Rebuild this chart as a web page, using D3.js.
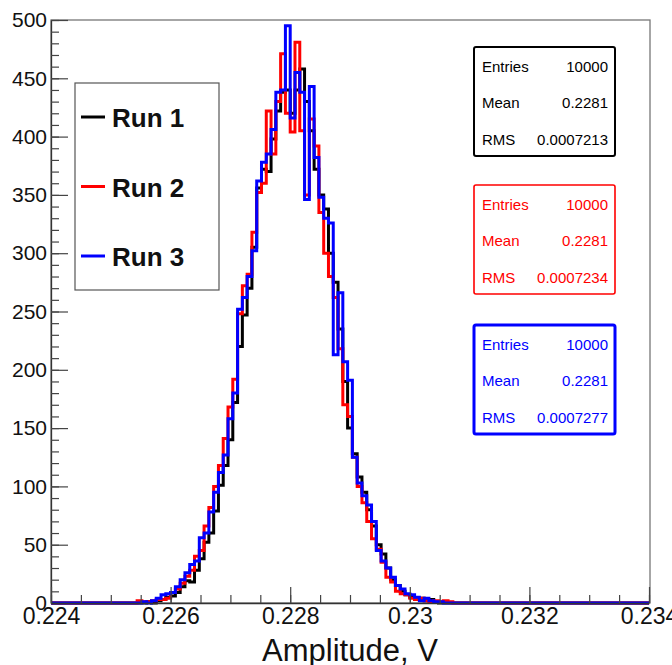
<!DOCTYPE html>
<html>
<head>
<meta charset="utf-8">
<script src="https://cdn.jsdelivr.net/npm/d3@7"></script>
<style>
  body { margin: 0; background: #fff; }
  svg { display: block; font-family: "Liberation Sans", Arial, sans-serif; }
</style>
</head>
<body>
<svg width="672" height="665"></svg>
<script>
// histogram: 125 bins of 0.00008 between 0.224 and 0.234
const X_MIN = 0.224, X_MAX = 0.234, N_BINS = 125;
const FIRST_BIN = 18; // index of first listed bin, all others are empty

const run1 = [0,0,1,0,2,3,5,6,9,14,19,18,28,38,52,60,79,101,118,140,172,220,247,270,305,356,372,370,398,422,438,440,420,440,458,430,405,372,350,338,300,275,235,190,150,128,108,95,80,66,50,42,30,20,15,10,7,5,3,4,2,3,1,0,0,0];
const run2 = [2,1,1,2,3,3,4,9,12,17,23,28,40,45,66,82,100,118,141,168,192,248,272,282,318,352,360,422,385,430,471,420,404,481,405,350,415,392,335,300,280,262,218,170,160,125,100,86,70,55,46,35,22,18,10,8,7,4,3,4,2,1,2,1,2,1];
const run3 = [0,1,0,2,4,7,8,9,14,20,26,33,36,56,60,78,95,112,127,158,180,252,262,280,302,362,378,385,406,438,440,495,416,455,438,346,443,382,348,330,326,213,266,207,191,125,103,92,84,70,45,36,30,22,15,12,8,7,5,2,4,2,1,1,0,0];

const runNames = ["Run 1", "Run 2", "Run 3"];
const runColors = ["#000000", "#ff0000", "#0000ff"];
const statLabels = ["Entries", "Mean", "RMS"];
const statValues = [
  ["10000", "0.2281", "0.0007213"],
  ["10000", "0.2281", "0.0007234"],
  ["10000", "0.2281", "0.0007277"]
];
const xTicks = [0.224, 0.226, 0.228, 0.23, 0.232, 0.234];

const svg = d3.select("svg");
const L = 51, R = 650, T = 20, B = 603;

const x = d3.scaleLinear().domain([X_MIN, X_MAX]).range([L, R - 1]);
const y = d3.scaleLinear().domain([0, 500]).range([B, T]);

// frame
svg.append("rect")
  .attr("x", L).attr("y", T)
  .attr("width", R - L).attr("height", B - T)
  .attr("fill", "none").attr("stroke", "#777").attr("stroke-width", 1.3);

const binW = (X_MAX - X_MIN) / N_BINS;
function fullBins(vals) {
  const out = new Array(N_BINS).fill(0);
  vals.forEach((v, i) => { out[FIRST_BIN + i] = v; });
  return out;
}
const line = d3.line()
  .x(d => x(d[0]))
  .y(d => y(d[1]))
  .curve(d3.curveStepAfter);

[run1, run2, run3].forEach((vals, s) => {
  const bins = fullBins(vals);
  const pts = [[X_MIN, 0]];
  bins.forEach((c, i) => pts.push([X_MIN + i * binW, c]));
  pts.push([X_MAX, bins[N_BINS - 1]]);
  svg.append("path")
    .attr("d", line(pts))
    .attr("fill", "none")
    .attr("stroke", runColors[s])
    .attr("stroke-width", 3)
    .attr("stroke-linejoin", "miter");
});

// y axis
const yMajor = d3.axisLeft(y).tickValues(d3.range(0, 501, 50))
  .tickSizeInner(-17).tickSizeOuter(0).tickPadding(4);
const gy = svg.append("g").attr("transform", `translate(${L},0)`).call(yMajor);
gy.select(".domain").attr("stroke", "#333").attr("stroke-width", 1.3);
gy.selectAll(".tick line").attr("stroke", "#444").attr("stroke-width", 1.2);
gy.selectAll("text").attr("font-size", 21).attr("fill", "#111");

const yMinor = d3.axisLeft(y).tickValues(d3.range(0, 501, 10))
  .tickSizeInner(-8).tickSizeOuter(0).tickFormat("");
const gy2 = svg.append("g").attr("transform", `translate(${L},0)`).call(yMinor);
gy2.select(".domain").remove();
gy2.selectAll(".tick line").attr("stroke", "#444").attr("stroke-width", 1.2);

// x axis
const xMajor = d3.axisBottom(x).tickValues(xTicks)
  .tickSizeInner(-16).tickSizeOuter(0).tickPadding(5)
  .tickFormat(d => String(+d.toFixed(3)));
const gx = svg.append("g").attr("transform", `translate(0,${B})`).call(xMajor);
gx.select(".domain").attr("stroke", "#333").attr("stroke-width", 1.3);
gx.selectAll(".tick line").attr("stroke", "#444").attr("stroke-width", 1.2);
gx.selectAll("text").attr("font-size", 23).attr("fill", "#111");

const xMinor = d3.axisBottom(x).tickValues(d3.range(0, 21).map(i => X_MIN + i * 0.0005))
  .tickSizeInner(-8).tickSizeOuter(0).tickFormat("");
const gx2 = svg.append("g").attr("transform", `translate(0,${B})`).call(xMinor);
gx2.select(".domain").remove();
gx2.selectAll(".tick line").attr("stroke", "#444").attr("stroke-width", 1.2);

svg.append("text")
  .attr("x", 350).attr("y", 661)
  .attr("text-anchor", "middle")
  .attr("font-size", 31).attr("fill", "#111")
  .text("Amplitude, V");

// legend
const leg = svg.append("g");
leg.append("rect")
  .attr("x", 75).attr("y", 83).attr("width", 144).attr("height", 207)
  .attr("fill", "#fff").attr("stroke", "#555").attr("stroke-width", 1.2);
runNames.forEach((n, i) => {
  const yy = 117 + i * 69.5;
  leg.append("line")
    .attr("x1", 81).attr("x2", 105).attr("y1", yy).attr("y2", yy)
    .attr("stroke", runColors[i]).attr("stroke-width", 3);
  leg.append("text")
    .attr("x", 112).attr("y", yy + 10)
    .attr("font-size", 26).attr("font-weight", "bold").attr("fill", "#111")
    .text(n);
});

// stat boxes
const boxTops = [47, 185, 325];
const boxStroke = [2, 1.6, 3];
statValues.forEach((vals, s) => {
  const g = svg.append("g").attr("fill", runColors[s]);
  g.append("rect")
    .attr("x", 474).attr("y", boxTops[s]).attr("width", 141).attr("height", 109)
    .attr("rx", 2)
    .attr("fill", "#fff").attr("stroke", runColors[s]).attr("stroke-width", boxStroke[s]);
  statLabels.forEach((lab, j) => {
    const yy = boxTops[s] + 25 + j * 36.3;
    g.append("text").attr("x", 482).attr("y", yy)
      .attr("font-size", 15).text(lab);
    g.append("text").attr("x", 608).attr("y", yy)
      .attr("font-size", 15).attr("text-anchor", "end").text(vals[j]);
  });
});
</script>
</body>
</html>
